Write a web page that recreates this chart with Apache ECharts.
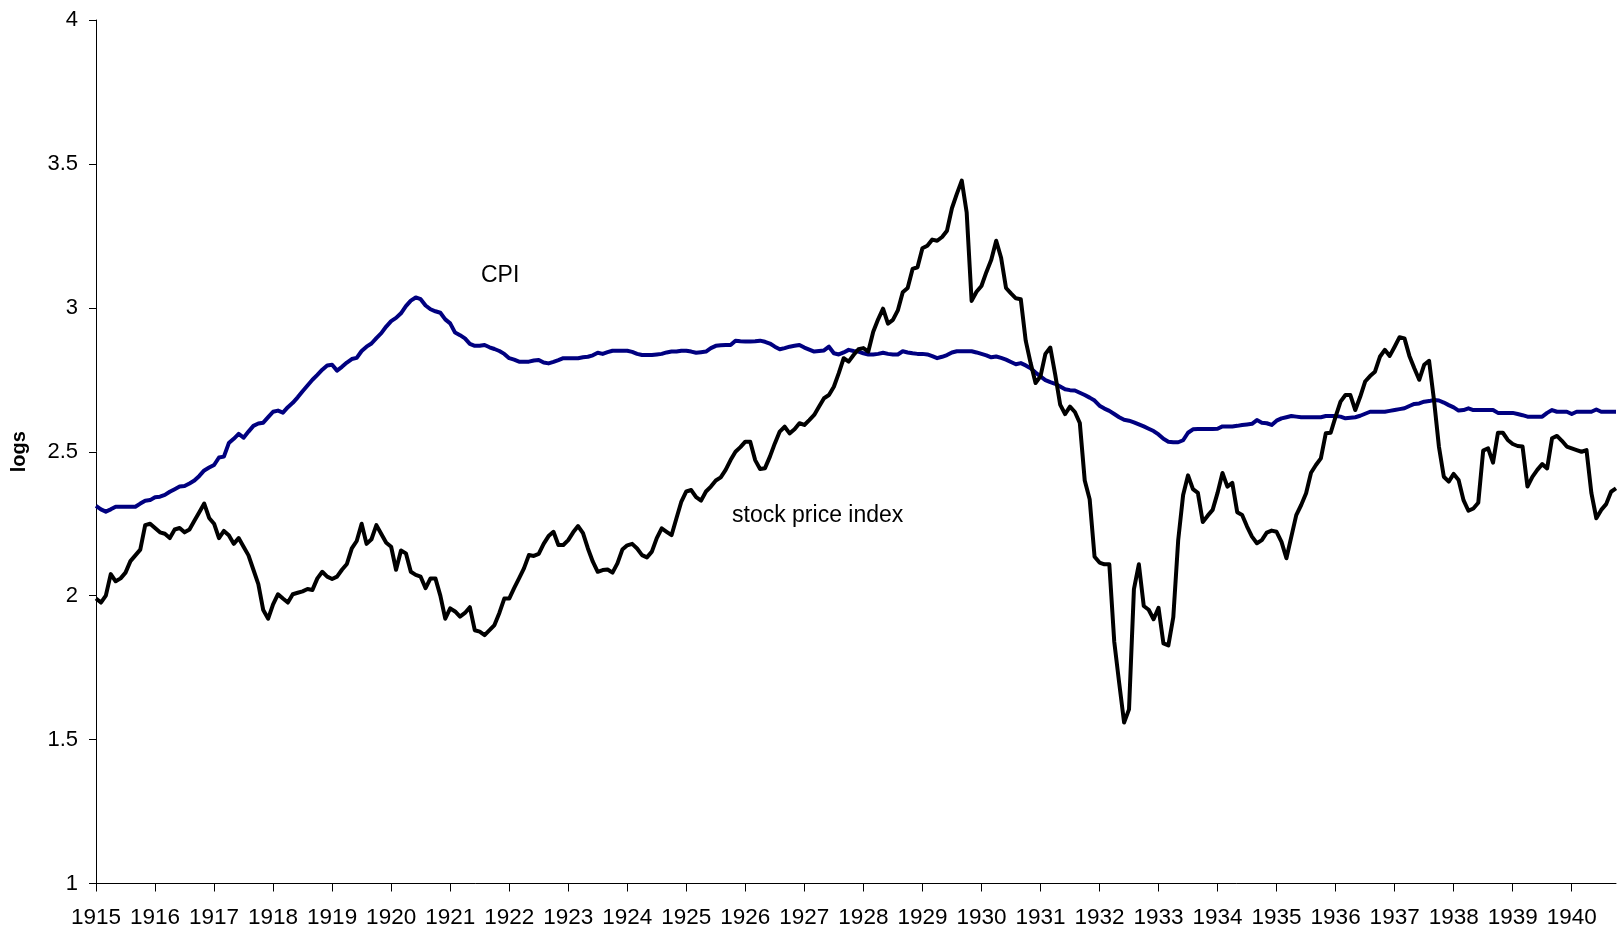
<!DOCTYPE html>
<html>
<head>
<meta charset="utf-8">
<title>stock price index and CPI, logs</title>
<script src="https://cdn.jsdelivr.net/npm/echarts@6/dist/echarts.min.js"></script>
<style>
    html, body { margin: 0; padding: 0; background: #fff; }
    #chart { width: 1617px; height: 932px; }
</style>
</head>
<body>
<div id="chart"></div>
<script>
// monthly data, Jan 1915 .. Oct 1940 (logs)
const startYear = 1915;
const yearTicks = [1915, 1916, 1917, 1918, 1919, 1920, 1921, 1922, 1923, 1924, 1925, 1926, 1927,
    1928, 1929, 1930, 1931, 1932, 1933, 1934, 1935, 1936, 1937, 1938, 1939, 1940];

const stockIndex = [
    1.99, 1.976, 2.00, 2.075, 2.05, 2.06, 2.08, 2.12, 2.14, 2.16, 2.245, 2.25,          // 1915
    2.235, 2.22, 2.215, 2.20, 2.23, 2.235, 2.22, 2.23, 2.26, 2.29, 2.32, 2.27,          // 1916
    2.25, 2.20, 2.225, 2.21, 2.18, 2.20, 2.17, 2.14, 2.09, 2.04, 1.95, 1.92,            // 1917
    1.97, 2.005, 1.99, 1.976, 2.005, 2.01, 2.015, 2.023, 2.02, 2.06, 2.083, 2.066,      // 1918
    2.058, 2.066, 2.09, 2.11, 2.164, 2.19, 2.25, 2.18, 2.196, 2.245, 2.214, 2.184,      // 1919
    2.17, 2.09, 2.157, 2.147, 2.083, 2.072, 2.066, 2.026, 2.06, 2.06, 2.00, 1.92,       // 1920
    1.956, 1.945, 1.927, 1.94, 1.96, 1.88, 1.875, 1.863, 1.88, 1.898, 1.94, 1.99,       // 1921
    1.99, 2.026, 2.06, 2.095, 2.141, 2.138, 2.145, 2.18, 2.207, 2.222, 2.176, 2.176,    // 1922
    2.193, 2.22, 2.242, 2.217, 2.164, 2.118, 2.083, 2.089, 2.091, 2.08, 2.112, 2.16,    // 1923
    2.175, 2.18, 2.164, 2.141, 2.133, 2.153, 2.2, 2.234, 2.222, 2.21, 2.269, 2.327,     // 1924
    2.362, 2.367, 2.342, 2.33, 2.362, 2.379, 2.4, 2.411, 2.437, 2.471, 2.50, 2.516,     // 1925
    2.535, 2.535, 2.471, 2.44, 2.443, 2.483, 2.529, 2.57, 2.587, 2.564, 2.578, 2.599,   // 1926
    2.593, 2.61, 2.628, 2.657, 2.686, 2.697, 2.726, 2.773, 2.825, 2.813, 2.836, 2.856,  // 1927
    2.86, 2.848, 2.917, 2.96, 2.997, 2.945, 2.958, 2.991, 3.054, 3.069, 3.135, 3.141,   // 1928
    3.207, 3.216, 3.237, 3.233, 3.246, 3.268, 3.346, 3.396, 3.442, 3.331, 3.024, 3.056, // 1929
    3.076, 3.124, 3.167, 3.233, 3.174, 3.069, 3.05, 3.033, 3.03, 2.886, 2.808, 2.739,   // 1930
    2.762, 2.84, 2.862, 2.768, 2.664, 2.631, 2.657, 2.638, 2.60, 2.40, 2.335, 2.135,    // 1931
    2.115, 2.109, 2.109, 1.84, 1.697, 1.559, 1.605, 2.023, 2.109, 1.964, 1.951, 1.918,  // 1932
    1.958, 1.834, 1.827, 1.925, 2.193, 2.35, 2.418, 2.37, 2.357, 2.256, 2.278, 2.298,   // 1933
    2.357, 2.426, 2.379, 2.392, 2.29, 2.28, 2.24, 2.205, 2.182, 2.193, 2.219, 2.226,    // 1934
    2.222, 2.187, 2.13, 2.205, 2.28, 2.315, 2.356, 2.427, 2.454, 2.477, 2.564, 2.566,   // 1935
    2.622, 2.674, 2.697, 2.697, 2.645, 2.691, 2.744, 2.763, 2.778, 2.83, 2.854, 2.833,  // 1936
    2.865, 2.898, 2.894, 2.833, 2.79, 2.75, 2.802, 2.816, 2.68, 2.518, 2.413, 2.396,    // 1937
    2.423, 2.402, 2.332, 2.295, 2.303, 2.323, 2.504, 2.512, 2.462, 2.566, 2.566, 2.541, // 1938
    2.527, 2.52, 2.518, 2.379, 2.413, 2.437, 2.457, 2.442, 2.547, 2.555, 2.538, 2.518,  // 1939
    2.512, 2.506, 2.5, 2.506, 2.356, 2.269, 2.298, 2.318, 2.361, 2.373                  // 1940
];

const cpi = [
    2.312, 2.30, 2.292, 2.30, 2.309, 2.309, 2.309, 2.309, 2.309, 2.32, 2.33, 2.332,     // 1915
    2.342, 2.344, 2.35, 2.361, 2.37, 2.379, 2.381, 2.39, 2.40, 2.416, 2.435, 2.445,     // 1916
    2.454, 2.48, 2.483, 2.53, 2.545, 2.562, 2.549, 2.57, 2.59, 2.598, 2.601, 2.62,      // 1917
    2.639, 2.643, 2.636, 2.655, 2.67, 2.689, 2.71, 2.73, 2.75, 2.767, 2.785, 2.80,      // 1918
    2.802, 2.782, 2.795, 2.81, 2.822, 2.826, 2.85, 2.865, 2.876, 2.895, 2.912, 2.935,   // 1919
    2.954, 2.965, 2.981, 3.006, 3.025, 3.036, 3.03, 3.008, 2.995, 2.988, 2.983, 2.96,   // 1920
    2.946, 2.914, 2.905, 2.894, 2.875, 2.868, 2.868, 2.871, 2.863, 2.857, 2.85, 2.84,   // 1921
    2.825, 2.82, 2.813, 2.813, 2.813, 2.817, 2.819, 2.81, 2.807, 2.812, 2.818, 2.825,   // 1922
    2.825, 2.825, 2.825, 2.828, 2.83, 2.835, 2.844, 2.84, 2.846, 2.851, 2.851, 2.851,   // 1923
    2.851, 2.847, 2.84, 2.836, 2.836, 2.836, 2.838, 2.84, 2.845, 2.848, 2.848, 2.851,   // 1924
    2.851, 2.848, 2.844, 2.846, 2.848, 2.86, 2.868, 2.87, 2.871, 2.871, 2.886, 2.884,   // 1925
    2.883, 2.883, 2.884, 2.886, 2.882, 2.876, 2.865, 2.856, 2.86, 2.865, 2.868, 2.871,  // 1926
    2.862, 2.855, 2.848, 2.85, 2.852, 2.865, 2.842, 2.838, 2.845, 2.854, 2.85, 2.848,   // 1927
    2.842, 2.838, 2.838, 2.84, 2.844, 2.84, 2.838, 2.838, 2.849, 2.845, 2.842, 2.84,    // 1928
    2.84, 2.838, 2.832, 2.825, 2.83, 2.836, 2.845, 2.849, 2.849, 2.849, 2.849, 2.845,   // 1929
    2.84, 2.835, 2.828, 2.831, 2.826, 2.82, 2.812, 2.804, 2.808, 2.80, 2.79, 2.775,     // 1930
    2.762, 2.749, 2.742, 2.736, 2.727, 2.717, 2.714, 2.713, 2.705, 2.697, 2.688, 2.678, // 1931
    2.66, 2.65, 2.642, 2.631, 2.62, 2.611, 2.608, 2.602, 2.595, 2.588, 2.58, 2.572,     // 1932
    2.56, 2.545, 2.535, 2.533, 2.533, 2.54, 2.566, 2.578, 2.579, 2.579, 2.579, 2.579,   // 1933
    2.58, 2.588, 2.588, 2.588, 2.59, 2.593, 2.595, 2.597, 2.61, 2.601, 2.599, 2.593,    // 1934
    2.608, 2.616, 2.62, 2.624, 2.622, 2.62, 2.62, 2.62, 2.62, 2.62, 2.624, 2.624,       // 1935
    2.624, 2.622, 2.616, 2.618, 2.62, 2.625, 2.632, 2.639, 2.639, 2.639, 2.639, 2.642,  // 1936
    2.645, 2.648, 2.651, 2.659, 2.666, 2.668, 2.674, 2.676, 2.68, 2.678, 2.671, 2.662,  // 1937
    2.654, 2.643, 2.645, 2.651, 2.645, 2.645, 2.645, 2.645, 2.645, 2.635, 2.635, 2.635, // 1938
    2.635, 2.631, 2.627, 2.622, 2.622, 2.622, 2.622, 2.635, 2.645, 2.639, 2.639, 2.639, // 1939
    2.631, 2.639, 2.639, 2.639, 2.639, 2.647, 2.639, 2.639, 2.639, 2.639                // 1940
];

const yTicks = { min: 1, max: 4, step: 0.5 };

// month index -> decimal year
function toPoints(values) {
    return values.map((v, i) => [startYear + i / 12, v]);
}

const lastX = startYear + (stockIndex.length - 1) / 12;
const labelFont = "'Liberation Sans', Arial, sans-serif";

const chart = echarts.init(document.getElementById("chart"), null, { renderer: "canvas" });

chart.setOption({
    animation: false,
    backgroundColor: "#fff",
    grid: {
        left: 96,
        top: 20,
        right: 1,
        bottom: 48.5
    },
    xAxis: {
        type: "value",
        min: yearTicks[0],
        max: lastX,
        interval: 1,
        axisLine: { show: true, onZero: false, lineStyle: { color: "#000", width: 1 } },
        axisTick: { show: true, inside: false, length: 8, lineStyle: { color: "#000" } },
        axisLabel: {
            margin: 23,
            fontSize: 22.5,
            color: "#000",
            fontFamily: labelFont,
            showMaxLabel: false,
            formatter: (v) => (yearTicks.includes(Math.round(v)) && Math.abs(v - Math.round(v)) < 1e-6 ? String(Math.round(v)) : "")
        },
        splitLine: { show: false }
    },
    yAxis: {
        type: "value",
        min: yTicks.min,
        max: yTicks.max,
        interval: yTicks.step,
        name: "logs",
        nameLocation: "middle",
        nameGap: 67,
        nameRotate: 90,
        nameTextStyle: { fontSize: 20, fontWeight: "bold", color: "#000", fontFamily: labelFont },
        axisLine: { show: true, lineStyle: { color: "#000", width: 1 } },
        axisTick: { show: true, inside: false, length: 7, lineStyle: { color: "#000" } },
        axisLabel: { margin: 18, fontSize: 22, color: "#000", fontFamily: labelFont },
        splitLine: { show: false }
    },
    series: [
        {
            name: "CPI",
            type: "line",
            data: toPoints(cpi),
            showSymbol: false,
            lineStyle: { color: "#000080", width: 4, join: "round" },
            z: 2
        },
        {
            name: "stock price index",
            type: "line",
            data: toPoints(stockIndex),
            showSymbol: false,
            lineStyle: { color: "#000", width: 4, join: "round" },
            z: 3
        }
    ],
    graphic: [
        {
            type: "text",
            left: 481,
            top: 264,
            style: { text: "CPI", fontSize: 23, fill: "#000", fontFamily: labelFont }
        },
        {
            type: "text",
            left: 732,
            top: 504,
            style: { text: "stock price index", fontSize: 23, fill: "#000", fontFamily: labelFont }
        }
    ]
});
</script>
</body>
</html>
